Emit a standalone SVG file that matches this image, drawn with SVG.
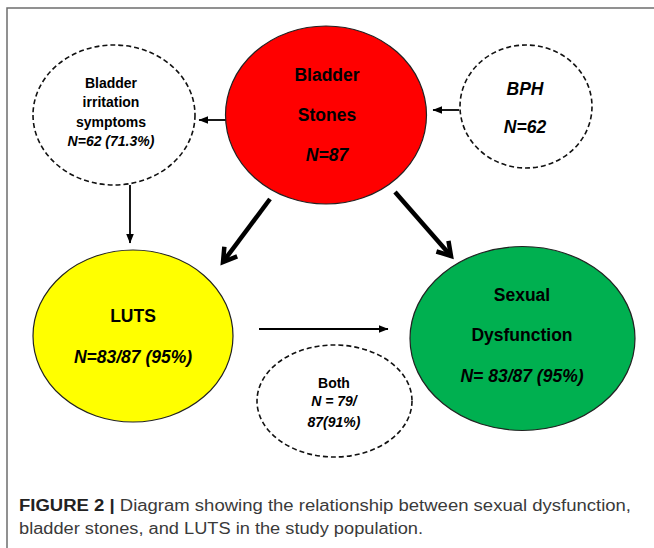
<svg xmlns="http://www.w3.org/2000/svg" width="654" height="548" viewBox="0 0 654 548">
<style>
.node-solid{stroke:#222;stroke-width:1.2}
.node-dash{fill:#fff;stroke:#111;stroke-width:1.6;stroke-dasharray:5 3}
.t{font-family:"Liberation Sans",Arial,sans-serif;font-weight:bold;fill:#000;text-anchor:middle}
.big{font-size:17.5px}
.small{font-size:14px}
.it{font-style:italic}
.thin{stroke:#000;stroke-width:1.8;fill:none;marker-end:url(#ah)}
.thick{stroke:#000;stroke-width:4.5;fill:none;marker-end:url(#ahb)}
.cap{font-family:"Liberation Sans",Arial,sans-serif;font-size:16px;fill:#3a3a3a}
</style>
<defs>
<marker id="ah" markerUnits="userSpaceOnUse" viewBox="0 0 10 10" refX="9" refY="5" markerWidth="10" markerHeight="10" orient="auto">
<path d="M0,1.2 L9.5,5 L0,8.8 Z" fill="#000"/>
</marker>
<marker id="ahb" markerUnits="userSpaceOnUse" viewBox="0 0 24 24" refX="18" refY="12" markerWidth="24" markerHeight="24" orient="auto">
<path d="M5,4 L18,12 L5,20" fill="none" stroke="#000" stroke-width="4.5" stroke-linejoin="miter"/>
</marker>
</defs>
<rect width="654" height="548" fill="#fff"/>
<path d="M7,548 V8 H654" fill="none" stroke="#6e6e6e" stroke-width="1.5"/>

<g id="connectors">
<line class="thin" x1="226" y1="120" x2="199" y2="120"/>
<line class="thin" x1="459" y1="110" x2="433" y2="110"/>
<line class="thin" x1="130" y1="185" x2="130" y2="243"/>
<line class="thin" x1="259" y1="329" x2="388" y2="329"/>
<line class="thick" x1="270" y1="199" x2="223" y2="262"/>
<line class="thick" x1="395" y1="192" x2="451" y2="256"/>
</g>

<g id="bladder-stones">
<ellipse class="node-solid" cx="326" cy="115" rx="100.5" ry="89" fill="#ff0000"/>
<text class="t big" x="327" y="81">Bladder</text>
<text class="t big" x="327" y="121">Stones</text>
<text class="t big it" x="327" y="161">N=87</text>
</g>

<g id="bladder-irritation">
<ellipse class="node-dash" cx="114" cy="115" rx="81" ry="70"/>
<text class="t small" x="111" y="88">Bladder</text>
<text class="t small" x="111" y="107">irritation</text>
<text class="t small" x="111" y="127">symptoms</text>
<text class="t small it" x="111" y="146">N=62 (71.3%)</text>
</g>

<g id="bph">
<ellipse class="node-dash" cx="526" cy="106.5" rx="66" ry="61.5"/>
<text class="t big it" x="525" y="95">BPH</text>
<text class="t big it" x="525" y="133">N=62</text>
</g>

<g id="luts">
<ellipse class="node-solid" cx="133" cy="336" rx="100" ry="86" fill="#ffff00"/>
<text class="t big" x="133" y="322">LUTS</text>
<text class="t big it" x="133" y="363">N=83/87 (95%)</text>
</g>

<g id="sexual-dysfunction">
<ellipse class="node-solid" cx="522.5" cy="338.5" rx="112.5" ry="92" fill="#00b050"/>
<text class="t big" x="522" y="301">Sexual</text>
<text class="t big" x="522" y="341">Dysfunction</text>
<text class="t big it" x="522" y="382">N= 83/87 (95%)</text>
</g>

<g id="both">
<ellipse class="node-dash" cx="334.5" cy="401" rx="77.5" ry="56"/>
<text class="t small" x="334" y="388">Both</text>
<text class="t small it" x="334" y="406">N = 79/</text>
<text class="t small it" x="334" y="427">87(91%)</text>
</g>

<g id="caption">
<text class="cap" x="19" y="511" textLength="612" lengthAdjust="spacingAndGlyphs"><tspan font-weight="bold" fill="#222">FIGURE 2 |</tspan> Diagram showing the relationship between sexual dysfunction,</text>
<text class="cap" x="19" y="534" textLength="404" lengthAdjust="spacingAndGlyphs">bladder stones, and LUTS in the study population.</text>
</g>
</svg>
